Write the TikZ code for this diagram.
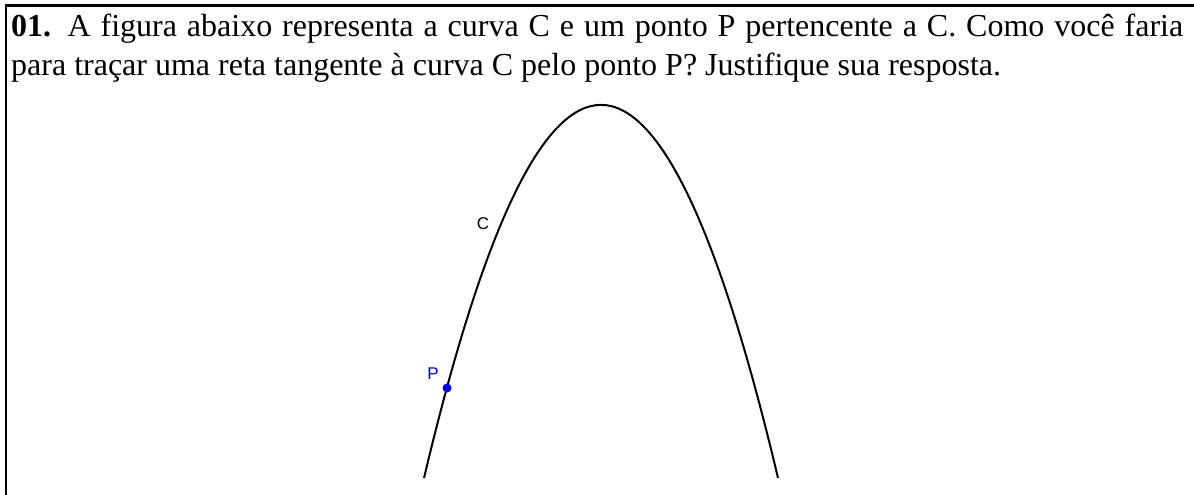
\documentclass[tikz,border=0pt]{standalone}
\usepackage{fontspec}
\setmainfont{Liberation Serif}
\newfontfamily\labelfont{Liberation Sans}
\begin{document}
\begin{tikzpicture}[x=1pt,y=-1pt,
  txt/.style={inner sep=0pt, anchor=base west, font=\fontsize{32}{38}\selectfont},
  curvestyle/.style={line width=2pt},
  lbl/.style={inner sep=0pt, font=\labelfont\fontsize{17}{20}\selectfont},
  pointstyle/.style={circle, fill=blue, inner sep=0pt, minimum size=9pt}]
\useasboundingbox (0,0) rectangle (1194,495);
\draw[line width=2.5pt] (6.2,495) -- (6.2,5.3) -- (1194,5.3);
\node[txt] (l1) at (11,37) {\makebox[1172pt][s]{\textbf{01.} A figura abaixo representa a curva C e um ponto P pertencente a C. Como você faria}};
\node[txt] (l2) at (11,75) {para traçar uma reta tangente à curva C pelo ponto P? Justifique sua resposta.};
\coordinate (cl) at (424,478);
\coordinate (cr) at (778,478);
\draw[curvestyle] (cl) .. controls (542,-19.5) and (660,-19.5) .. (cr);
\node[pointstyle] (P) at (447,388) {};
\node[lbl, text=blue] (Plbl) at (433,374) {P};
\node[lbl] (Clbl) at (483,224) {C};
\end{tikzpicture}
\end{document}
